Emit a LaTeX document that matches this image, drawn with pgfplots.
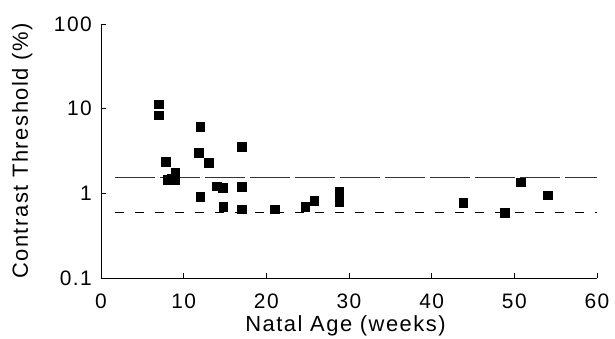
\documentclass[border=0pt]{standalone}
\usepackage{fontspec}
\setmainfont[LetterSpace=7]{Liberation Sans}
\usepackage{pgfplots}
\pgfplotsset{compat=1.18}
\begin{document}
\begin{tikzpicture}[x=1bp,y=1bp]
\useasboundingbox (-101bp,-61bp) rectangle (514bp,278bp);
\begin{axis}[
  at={(0,0)}, anchor=south west,
  scale only axis, width=496bp, height=254bp,
  xmin=0, xmax=60, ymode=log, ymin=0.1, ymax=100,
  axis x line=bottom, axis y line=left,
  axis line style={-, line width=1pt},
  xtick={0,10,...,60},
  ytick={0.1,1,10,100}, yticklabels={0.1,1,10,100},
  minor tick num=0, minor y tick num=0,
  yminorticks=false,
  tick align=inside, major tick length=5bp,
  tick style={line width=0.8pt, black},
  /pgf/number format/assume math mode=true,
  ticklabel style={font=\fontsize{21}{21}\selectfont, inner sep=0pt},
  xticklabel style={anchor=center, yshift=-23bp},
  yticklabel style={anchor=east, xshift=-9bp},
  xlabel={Natal Age (weeks)},
  ylabel={Contrast Threshold (\%)},
  every axis x label/.style={at={(axis description cs:0.493,-0.19)}, anchor=center, font=\fontsize{22}{22}\selectfont},
  every axis y label/.style={at={(axis description cs:-0.159,0.5)}, rotate=90, anchor=center, font=\fontsize{22}{22}\selectfont},
  clip=false,
]
\addplot[only marks, mark=square*, mark size=4.3bp, black] coordinates {
(7,11.3) (7,8.4) (7.8,2.37) (8,1.46) (9,1.75) (9,1.46) (8.5,1.5)
(12,6.1) (11.8,3.0) (13,2.3) (12,0.91) (14,1.22) (14.7,1.17) (14.8,0.695)
(17,3.56) (17,1.19) (17,0.647) (21,0.647) (24.7,0.695) (25.8,0.82)
(28.8,1.04) (28.8,0.80) (43.8,0.77) (48.8,0.59) (50.8,1.35) (54,0.955)
};
\addplot[black!80, line width=0.8pt, dash pattern=on 40bp off 5bp] coordinates {(1.7,1.56) (60,1.56)};
\addplot[black, line width=0.8pt, dash pattern=on 9bp off 11bp] coordinates {(1.7,0.59) (60,0.59)};
\end{axis}
\end{tikzpicture}
\end{document}
